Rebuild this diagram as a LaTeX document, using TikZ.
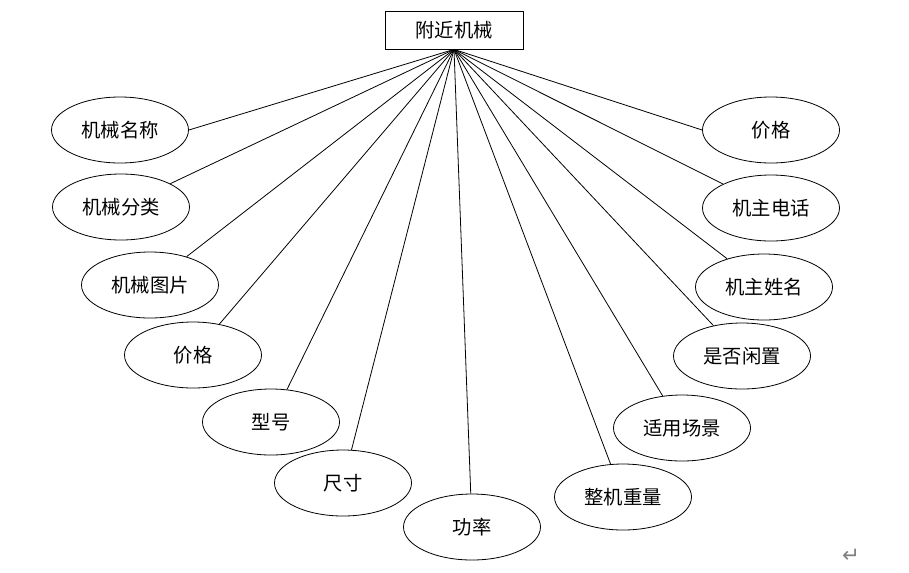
\documentclass[tikz,border=0pt]{standalone}
\usepackage{fontspec}
\newfontfamily\cjk{Noto Sans CJK SC}
\newfontfamily\symfont{DejaVu Sans}
\usepackage{tikz}
\usetikzlibrary{shapes.geometric}

\tikzset{
  attr/.style={ellipse, draw, line width=0.6pt, minimum width=102.75pt,
    minimum height=49.5pt, inner sep=0pt, font=\cjk\fontsize{14.5}{16}\selectfont},
  entity/.style={rectangle, draw, line width=0.6pt, minimum width=103.5pt,
    minimum height=28.5pt, inner sep=0pt, font=\cjk\fontsize{14.5}{16}\selectfont},
  link/.style={line width=0.6pt}
}

\begin{document}
\begin{tikzpicture}[x=0.75pt, y=-0.75pt]
    \useasboundingbox (0,0) rectangle (909,572);
    % Entity
    \node[entity] (top) at (454,30) {附近机械};
    % Attributes, left side going down
    \node[attr] (a1) at (120,130) {机械名称};
    \node[attr] (a2) at (121,207) {机械分类};
    \node[attr] (a3) at (150,285) {机械图片};
    \node[attr] (a4) at (193,355) {价格};
    \node[attr] (a5) at (271,422) {型号};
    \node[attr] (a6) at (343,483) {尺寸};
    \node[attr] (a7) at (472,527) {功率};
    % Attributes, right side going up
    \node[attr] (a8) at (623,497) {整机重量};
    \node[attr] (a9) at (682,428) {适用场景};
    \node[attr] (a10) at (742,356) {是否闲置};
    \node[attr] (a11) at (764,287) {机主姓名};
    \node[attr] (a12) at (771,208) {机主电话};
    \node[attr] (a13) at (771,130) {价格};
    % Links
    \draw[link] (top.south) -- (a1.east);
    \foreach \i in {2,...,12} {
      \draw[link] (top.south) -- (a\i);
    }
    \draw[link] (top.south) -- (a13.west);
    % Paragraph mark
    \node[text=gray, font=\symfont\fontsize{16}{17}\selectfont] (mark) at (851,556) {↵};
\end{tikzpicture}
\end{document}
